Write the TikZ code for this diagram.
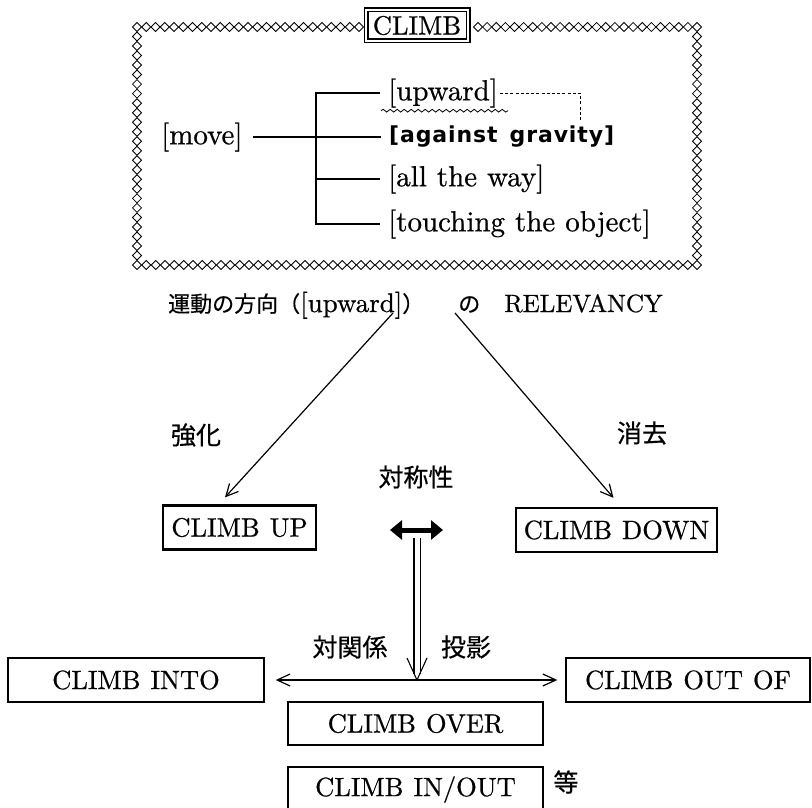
\documentclass[tikz,border=0pt]{standalone}
\usepackage{fontspec}
\usetikzlibrary{arrows.meta,decorations.pathmorphing}
\newfontfamily\jp{Noto Sans CJK JP}[FakeBold=0.5]
\newfontfamily\lmr{lmroman10-regular.otf}[FakeBold=0.6]
\newfontfamily\gsans{DejaVu Sans}[LetterSpace=4]
\tikzset{
  treetxt/.style={font={\lmr\fontsize{29}{33}\selectfont\spaceskip=10pt\relax}, inner sep=0pt, anchor=west},
  capfont/.style={font={\lmr\fontsize{26.5}{30}\selectfont\spaceskip=10pt\relax}},
  wbox/.style={capfont, draw, line width=1.4pt, inner sep=0pt, minimum height=44pt},
  sbox/.style={wbox, line width=2.3pt},
  jlab/.style={font={\jp\fontsize{25}{30}\selectfont}, inner sep=0pt},
  conn/.style={line width=1.2pt},
  barb/.style={-{Straight Barb[length=12pt,width=12pt]}},
  dia/.pic={\draw[line width=0.85pt] (-4.5,0)--(0,-4.5)--(4.5,0)--(0,4.5)--cycle;},
}
\begin{document}
\begin{tikzpicture}[x=1pt,y=-1pt]
\clip (0,0) rectangle (812,808);
\fill[white] (0,0) rectangle (812,808);

% diamond frame
\foreach \i in {0,...,24}{
  \pgfmathsetmacro\xa{137+\i*9.25}
  \pic at (\xa,27) {dia};
  \pgfmathsetmacro\xb{478+\i*9.125}
  \pic at (\xb,27) {dia};
}
\foreach \i in {0,...,60}{
  \pgfmathsetmacro\xx{137+\i*9.33333}
  \pic at (\xx,265) {dia};
}
\foreach \i in {1,...,24}{
  \pgfmathsetmacro\yy{27+\i*9.52}
  \pic at (137,\yy) {dia};
  \pic at (697,\yy) {dia};
}
\node[capfont, draw, double, double distance=2.6pt, line width=1.2pt,
      minimum width=102pt, minimum height=31pt, inner sep=0pt] (climb) at (417,25.5) {CLIMB};

% tree
\node[treetxt] (mv) at (161,137) {[move]};
\node[treetxt] (t1) at (388,93) {[upward]};
\node[treetxt, font={\gsans\bfseries\fontsize{22}{26}\selectfont\spaceskip=12pt\relax}] (t2) at (389,137) {[against gravity]};
\node[treetxt] (t3) at (388,179) {[all the way]};
\node[treetxt] (t4) at (388,224) {[touching the object]};
\coordinate (jt) at (316,93);
\coordinate (jm) at (316,137);
\coordinate (j3) at (316,179);
\coordinate (jb) at (316,224);
\draw[line width=2.6pt] ([xshift=-8pt]t1.west) -- (jt) -- (jb) -- ([xshift=-8pt]t4.west);
\draw[line width=2.6pt] (jm) -- ([xshift=-8pt]t2.west);
\draw[line width=2.6pt] (j3) -- ([xshift=-8pt]t3.west);
\draw[line width=1.8pt] ([xshift=10pt]mv.east) -- (jm);
\coordinate (dc) at (580,122);
\draw[line width=0.8pt, dash pattern=on 3pt off 2.2pt] ([xshift=2pt]t1.east) -| (dc);
\draw[line width=0.8pt, decorate, decoration={snake, amplitude=1.4pt, segment length=7pt}]
  ([xshift=-7pt,yshift=-3pt]t1.south west) -- ([xshift=10pt,yshift=-3pt]t1.south east);

% relevancy line
\node[anchor=base west, inner sep=0pt] (rel) at (168,312)
  {{\jp\fontsize{22}{26}\selectfont 運動の方向（}{\lmr\fontsize{27}{30}\selectfont [upward]}{\jp\fontsize{22}{26}\selectfont ）\hspace{34pt}の}\hspace{24pt}{\lmr\fontsize{25}{30}\selectfont RELEVANCY}};

% boxes
\node[sbox, minimum width=153pt] (up) at (239.5,527.5) {CLIMB UP};
\node[sbox, minimum width=201pt] (down) at (616.5,530) {CLIMB DOWN};
\node[wbox, minimum width=256pt] (into) at (136,680) {CLIMB INTO};
\node[wbox, minimum width=244pt] (outof) at (688,680) {CLIMB OUT OF};
\node[wbox, minimum width=255pt, minimum height=43pt] (over) at (415.5,723.5) {CLIMB OVER};
\node[wbox, minimum width=255pt, minimum height=45pt] (inout) at (415.5,789.5) {CLIMB IN/OUT};

% labels
\node[jlab] (kyo) at (196,435) {強化};
\node[jlab] (sho) at (642,433) {消去};
\node[jlab] (tai) at (416,477) {対称性};
\node[jlab] (tkk) at (350,647) {対関係};
\node[jlab] (toe) at (466,647) {投影};
\node[jlab] (etc) at (566,782) {等};

% diagonal arrows
\coordinate (la) at (393,313);
\coordinate (ra) at (455,313);
\draw[conn, barb] (la) -- ([xshift=-14.5pt,yshift=7pt]up.north);
\draw[conn, barb] (ra) -- ([xshift=-3pt,yshift=9pt]down.north);

% symmetry arrow
\coordinate (sl) at (390,530);
\coordinate (sr) at (443,530);
\draw[line width=5pt, {Triangle[length=12pt,width=19pt]}-{Triangle[length=12pt,width=19pt]}] (sl) -- (sr);

% projection double line
\coordinate (dtop) at (417,538);
\coordinate (hub) at (417,680);
\draw[double, double distance=5pt, line width=1.1pt] (dtop) -- ([yshift=6pt]hub);
\draw[line width=1.1pt] ([shift={(-10pt,22pt)}]hub) -- (hub) -- ([shift={(10pt,22pt)}]hub);

% horizontal arrow
\draw[conn, {Straight Barb[length=13pt,width=12pt]}-{Straight Barb[length=13pt,width=12pt]}]
  ([xshift=11pt]into.east) -- ([xshift=-8pt]outof.west);
\end{tikzpicture}
\end{document}
